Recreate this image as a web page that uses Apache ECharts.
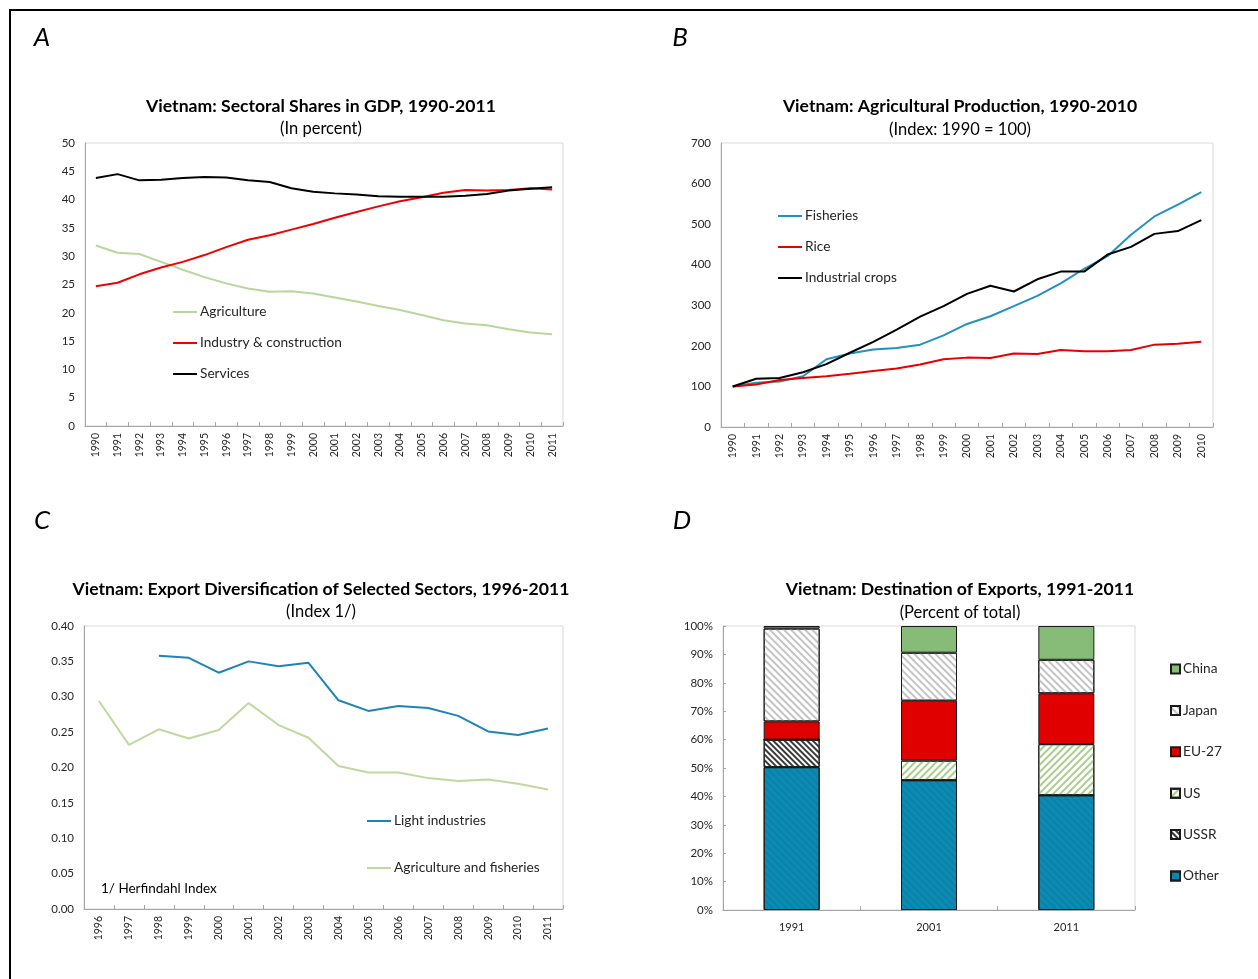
<!DOCTYPE html>
<html>
<head>
<meta charset="utf-8">
<title>Vietnam: Structural Change</title>
<script src="https://cdn.jsdelivr.net/npm/echarts@6/dist/echarts.min.js"></script>
<style>
  html, body { margin: 0; padding: 0; background: #ffffff; }
  #chart { width: 1258px; height: 979px; }
</style>
</head>
<body>
<div id="chart"></div>
<script>
// ---------- Panel A: sectoral shares in GDP (percent) ----------
const yearsA = ['1990','1991','1992','1993','1994','1995','1996','1997','1998','1999','2000',
                '2001','2002','2003','2004','2005','2006','2007','2008','2009','2010','2011'];
const agriculture = [31.9, 30.6, 30.4, 29.0, 27.6, 26.3, 25.2, 24.3, 23.7, 23.8, 23.4,
                     22.7, 22.0, 21.2, 20.5, 19.6, 18.7, 18.1, 17.8, 17.1, 16.5, 16.2];
const industry    = [24.7, 25.3, 26.8, 28.0, 29.0, 30.2, 31.6, 32.9, 33.7, 34.7, 35.7,
                     36.8, 37.8, 38.8, 39.7, 40.4, 41.2, 41.7, 41.6, 41.7, 42.0, 41.8];
const services    = [43.8, 44.5, 43.4, 43.5, 43.8, 44.0, 43.9, 43.4, 43.1, 42.0, 41.4,
                     41.1, 40.9, 40.6, 40.5, 40.5, 40.5, 40.7, 41.0, 41.6, 41.9, 42.2];

// ---------- Panel B: agricultural production index (1990 = 100) ----------
const yearsB = ['1990','1991','1992','1993','1994','1995','1996','1997','1998','1999','2000',
                '2001','2002','2003','2004','2005','2006','2007','2008','2009','2010'];
const fisheries  = [100, 109, 112, 125, 167, 181, 191, 195, 203, 226, 254,
                    273, 298, 323, 354, 390, 421, 474, 519, 548, 579];
const rice       = [100, 105, 116, 121, 125, 131, 138, 144, 154, 167, 171,
                    170, 181, 180, 190, 187, 187, 190, 203, 205, 210];
const indCrops   = [100, 119, 121, 135, 155, 183, 210, 240, 272, 298, 328,
                    348, 334, 364, 383, 383, 425, 444, 476, 483, 510];

// ---------- Panel C: export diversification (Herfindahl index) ----------
const yearsC = ['1996','1997','1998','1999','2000','2001','2002','2003','2004','2005','2006',
                '2007','2008','2009','2010','2011'];
const lightInd = [null, null, 0.358, 0.355, 0.334, 0.350, 0.343, 0.348, 0.295, 0.280, 0.287,
                  0.284, 0.273, 0.251, 0.246, 0.255];
const agriFish = [0.294, 0.232, 0.254, 0.241, 0.253, 0.291, 0.260, 0.242, 0.202, 0.193, 0.193,
                  0.185, 0.181, 0.183, 0.177, 0.169];

// ---------- Panel D: destination of exports (percent of total) ----------
const yearsD = ['1991', '2001', '2011'];
const other = [50.3, 45.7, 40.4];
const ussr  = [9.7, 0, 0];
const us    = [0, 6.9, 18.0];
const eu27  = [6.4, 21.1, 17.9];
const japan = [32.7, 16.9, 11.8];
const china = [0.9, 9.4, 11.9];

const FONT = 'Lato, "Open Sans", sans-serif';
const TXT = '#262626';

function catAxis(gridIndex, data, labelSize, rotate) {
  return {
    type: 'category', gridIndex: gridIndex, data: data, boundaryGap: true,
    axisLine: { show: true, lineStyle: { color: '#A6A6A6', width: 1 } },
    axisTick: { show: true, inside: true, length: 4, alignWithLabel: false,
                lineStyle: { color: '#A6A6A6' } },
    axisLabel: { rotate: rotate, fontSize: labelSize, color: TXT, fontFamily: FONT,
                 margin: 7, interval: 0 },
    splitLine: { show: false }
  };
}
function valAxis(gridIndex, max, interval, fmt, ticks) {
  return {
    type: 'value', gridIndex: gridIndex, min: 0, max: max, interval: interval,
    axisLine: { show: true, lineStyle: { color: '#A6A6A6', width: 1 } },
    axisTick: { show: !!ticks, inside: true, length: 3, lineStyle: { color: '#A6A6A6' } },
    axisLabel: { fontSize: 11.5, color: TXT, fontFamily: FONT, margin: 10, formatter: fmt },
    splitLine: { show: false }
  };
}
function line(name, xi, data, color) {
  return {
    name: name, type: 'line', xAxisIndex: xi, yAxisIndex: xi, data: data,
    symbol: 'none', connectNulls: false,
    lineStyle: { color: color, width: 2 }, itemStyle: { color: color },
    emphasis: { disabled: true }
  };
}
function lineLegend(names, left, top, gap) {
  return {
    data: names, orient: 'vertical', left: left, top: top, itemGap: gap, padding: 0,
    icon: 'rect', itemWidth: 24, itemHeight: 2,
    textStyle: { fontSize: 13.7, color: TXT, fontFamily: FONT, padding: [0, 0, 0, -2] },
    selectedMode: false
  };
}
function bar(name, data, color, decal) {
  const s = {
    name: name, type: 'bar', stack: 'dest', xAxisIndex: 3, yAxisIndex: 3, data: data,
    barWidth: 56,
    itemStyle: { color: color, borderColor: '#1a1a1a', borderWidth: 1 },
    emphasis: { disabled: true }
  };
  if (decal) s.itemStyle.decal = decal;
  return s;
}
function stripes(color, rot, gap) {
  return { symbol: 'rect', symbolSize: 1, color: color, dashArrayX: [1, 0],
           dashArrayY: [2, gap], rotation: rot };
}

function txt(x, y, text, size, weight, style, align) {
  return {
    type: 'text', x: x, y: y, silent: true,
    style: { text: text, fontSize: size, fontWeight: weight || 'normal',
             fontStyle: style || 'normal', fontFamily: FONT, fill: '#000',
             textAlign: align || 'center', textVerticalAlign: 'middle' }
  };
}

const chart = echarts.init(document.getElementById('chart'));
chart.setOption({
  backgroundColor: '#ffffff',
  animation: false,
  grid: [
    { left: 85,  top: 143, width: 478, height: 283, show: true, borderColor: '#D9D9D9', borderWidth: 1 },
    { left: 721, top: 143, width: 492, height: 284, show: true, borderColor: '#D9D9D9', borderWidth: 1 },
    { left: 84,  top: 626, width: 479, height: 283, show: true, borderColor: '#D9D9D9', borderWidth: 1 },
    { left: 723, top: 626, width: 412, height: 284, show: true, borderColor: '#D9D9D9', borderWidth: 1 }
  ],
  xAxis: [
    catAxis(0, yearsA, 10.5, 90),
    catAxis(1, yearsB, 10.5, 90),
    catAxis(2, yearsC, 10.5, 90),
    Object.assign(catAxis(3, yearsD, 11, 0), { axisLabel: { fontSize: 11, color: TXT, fontFamily: FONT, margin: 12 } })
  ],
  yAxis: [
    valAxis(0, 50, 5, null, false),
    valAxis(1, 700, 100, null, false),
    valAxis(2, 0.40, 0.05, v => v.toFixed(2), false),
    valAxis(3, 100, 10, '{value}%', true)
  ],
  legend: [
    lineLegend(['Agriculture', 'Industry & construction', 'Services'], 173, 305, 17),
    lineLegend(['Fisheries', 'Rice', 'Industrial crops'], 778, 209, 17),
    lineLegend(['Light industries', 'Agriculture and fisheries'], 367, 814, 33),
    {
      data: ['China', 'Japan', 'EU-27', 'US', 'USSR', 'Other'],
      orient: 'vertical', left: 1170, top: 662, itemGap: 27.4, padding: 0,
      icon: 'rect', itemWidth: 9, itemHeight: 9,
      textStyle: { fontSize: 13.7, color: TXT, fontFamily: FONT, padding: [0, 0, 0, -2] },
      selectedMode: false
    }
  ],
  series: [
    line('Agriculture', 0, agriculture, '#B9D79A'),
    line('Industry & construction', 0, industry, '#F00000'),
    line('Services', 0, services, '#000000'),
    line('Fisheries', 1, fisheries, '#2391C0'),
    line('Rice', 1, rice, '#E80000'),
    line('Industrial crops', 1, indCrops, '#000000'),
    line('Light industries', 2, lightInd, '#1E84B8'),
    line('Agriculture and fisheries', 2, agriFish, '#BFD99F'),
    bar('Other', other, '#0B8BB3', stripes('rgba(0,0,0,0.07)', Math.PI / 4, 3)),
    bar('USSR', ussr, '#ffffff', stripes('#3a3a3a', Math.PI / 4, 2)),
    bar('US', us, '#ffffff', stripes('#A8CF8C', -Math.PI / 4, 3)),
    bar('EU-27', eu27, '#E00000', null),
    bar('Japan', japan, '#ffffff', stripes('#C4C4C4', Math.PI / 4, 3)),
    bar('China', china, '#86BC78', null)
  ],
  graphic: [
    { type: 'rect', silent: true, shape: { x: 10, y: 10, width: 1270, height: 1000 },
      style: { fill: 'none', stroke: '#000', lineWidth: 2 } },
    txt(42, 38, 'A', 26, 'normal', 'italic'),
    txt(680, 38, 'B', 26, 'normal', 'italic'),
    txt(42, 521, 'C', 26, 'normal', 'italic'),
    txt(682, 521, 'D', 26, 'normal', 'italic'),
    txt(321, 106, 'Vietnam: Sectoral Shares in GDP, 1990-2011', 17.6, 'bold'),
    txt(321, 129, '(In percent)', 16.5),
    txt(960, 106, 'Vietnam: Agricultural Production, 1990-2010', 17.6, 'bold'),
    txt(960, 130, '(Index: 1990 = 100)', 16.5),
    txt(321, 589, 'Vietnam: Export Diversification of Selected Sectors, 1996-2011', 17.6, 'bold'),
    txt(321, 612, '(Index 1/)', 16.5),
    txt(960, 589, 'Vietnam: Destination of Exports, 1991-2011', 17.6, 'bold'),
    txt(960, 613, '(Percent of total)', 16.5),
    txt(101, 889, '1/ Herfindahl Index', 13.5, 'normal', 'normal', 'left')
  ]
});
</script>
</body>
</html>
